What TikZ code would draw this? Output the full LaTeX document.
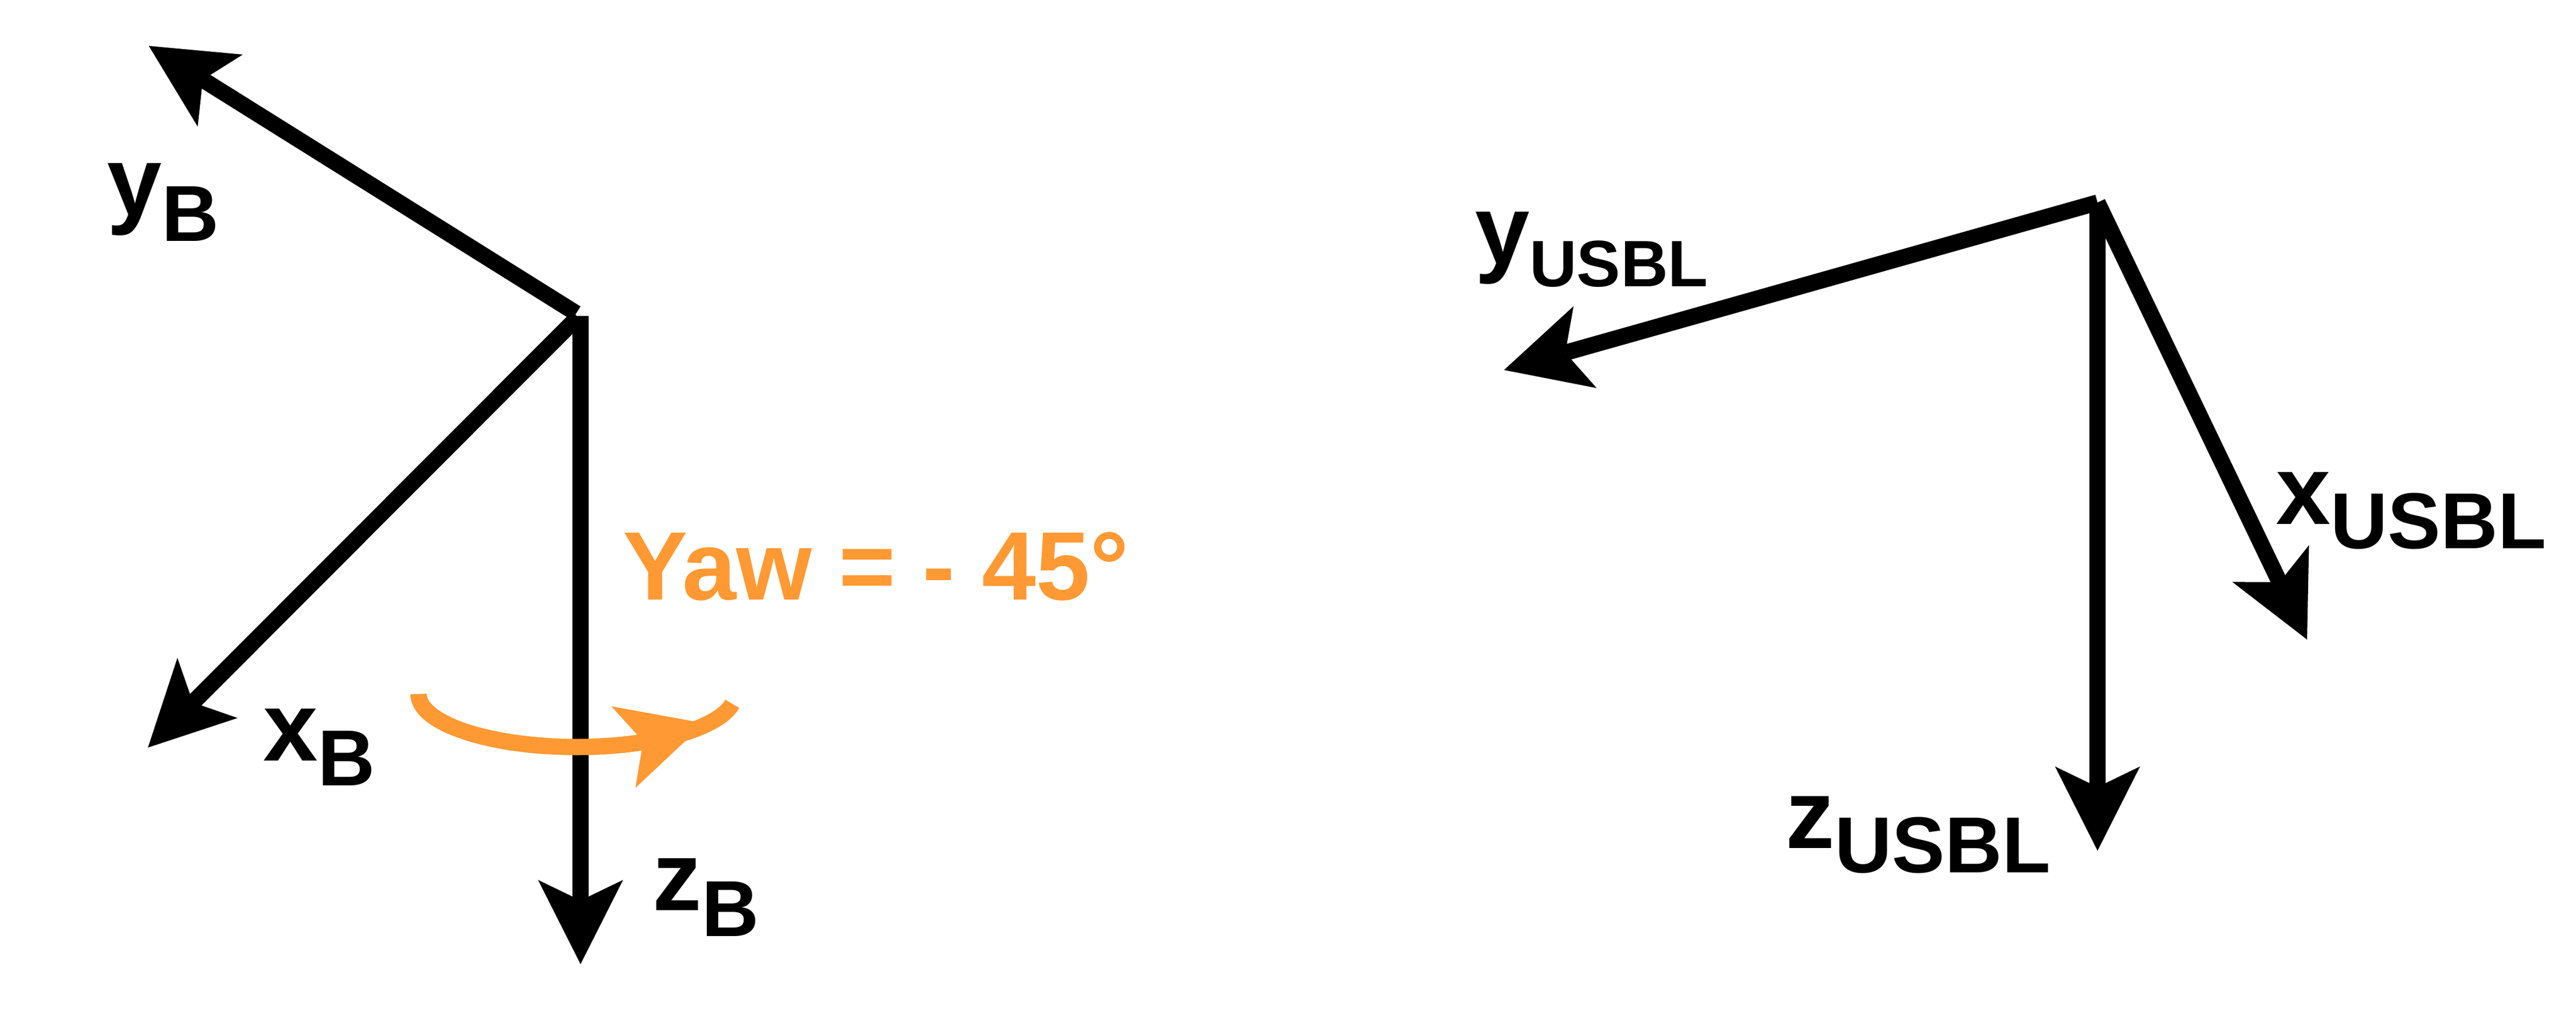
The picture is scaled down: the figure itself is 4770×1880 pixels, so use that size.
\documentclass[tikz,border=0pt]{standalone}
\usepackage{fontspec}
\setmainfont{Liberation Sans}[BoldFont=Liberation Sans Bold]
\usetikzlibrary{arrows.meta}
\definecolor{yaworange}{RGB}{255,153,51}
\newcommand{\lowsub}[3]{\raisebox{-#1pt}{\fontsize{#2}{#2}\selectfont #3}}
\newcommand{\ellx}[1]{1068+293*cos(#1)}
\newcommand{\elly}[1]{1285-98*sin(#1)}
\tikzset{
  axisarrow/.style={draw=black,line width=10pt,line cap=butt,
    -{Stealth[length=52pt,width=52.5pt,inset=12.7pt,line width=0pt]}},
  axislabel/.style={anchor=base west,inner sep=0pt,outer sep=0pt,font=\bfseries\fontsize{60.67}{70}\selectfont},
  yawline/.style={draw=yaworange,line width=10pt,line cap=butt,line join=round},
}
\begin{document}
\begin{tikzpicture}[x=0.33333pt,y=-0.33333pt]
\useasboundingbox (0,0) rectangle (4770,1880);
% body frame
\coordinate (oBy) at (1067,580);
\coordinate (oBx) at (1070,587);
\coordinate (oBz) at (1075,585);
\coordinate (tipyB) at (275.6,85);
\coordinate (tipxB) at (274,1384);
\coordinate (tipzB) at (1075,1785);
% USBL frame
\coordinate (oU) at (3884,375);
\coordinate (tipyU) at (2785,685);
\coordinate (tipxU) at (4272,1184);
\coordinate (tipzU) at (3884,1575);
\coordinate (yawtip) at (1304,1339);

\draw[axisarrow] (oBz) -- (tipzB);
\draw[axisarrow] (oBx) -- (tipxB);
\draw[axisarrow] (oBy) -- (tipyB);
\draw[axisarrow] (oU) -- (tipzU);
\draw[axisarrow] (oU) -- (tipyU);
\draw[axisarrow] (oU) -- (tipxU);

% yaw indicator
\foreach \a/\b in {-10.6/-57.4,-64.5/-94.5,-101/-133,-142/-180}
  \draw[yawline] plot[domain=\a:\b,samples=40] ({\ellx{\x}},{\elly{\x}});
\draw[yawline,-{Stealth[length=52pt,width=52.5pt,inset=12.7pt,line width=0pt]}]
  plot[domain=180:67.5,samples=60] ({\ellx{\x}},{1285+98*sin(\x)}) -- (yawtip);

% labels
\node[axislabel] (lyB) at (198,398) {y\lowsub{16}{49}{B}};
\node[axislabel] (lxB) at (487,1408) {x\lowsub{15.5}{49}{B}};
\node[axislabel] (lzB) at (1208,1685) {z\lowsub{16}{49}{B}};
\node[axislabel] (lyU) at (2731,488) {y\lowsub{14}{40.5}{USBL}};
\node[axislabel] (lxU) at (4214,970) {x\lowsub{15.3}{49}{USBL}};
\node[axislabel] (lzU) at (3306,1570) {z\lowsub{15.3}{49}{USBL}};
\node[axislabel,text=yaworange,font=\bfseries\fontsize{60}{70}\selectfont] (yaw) at (1153,1110) {Yaw = - 45°};
\end{tikzpicture}
\end{document}
